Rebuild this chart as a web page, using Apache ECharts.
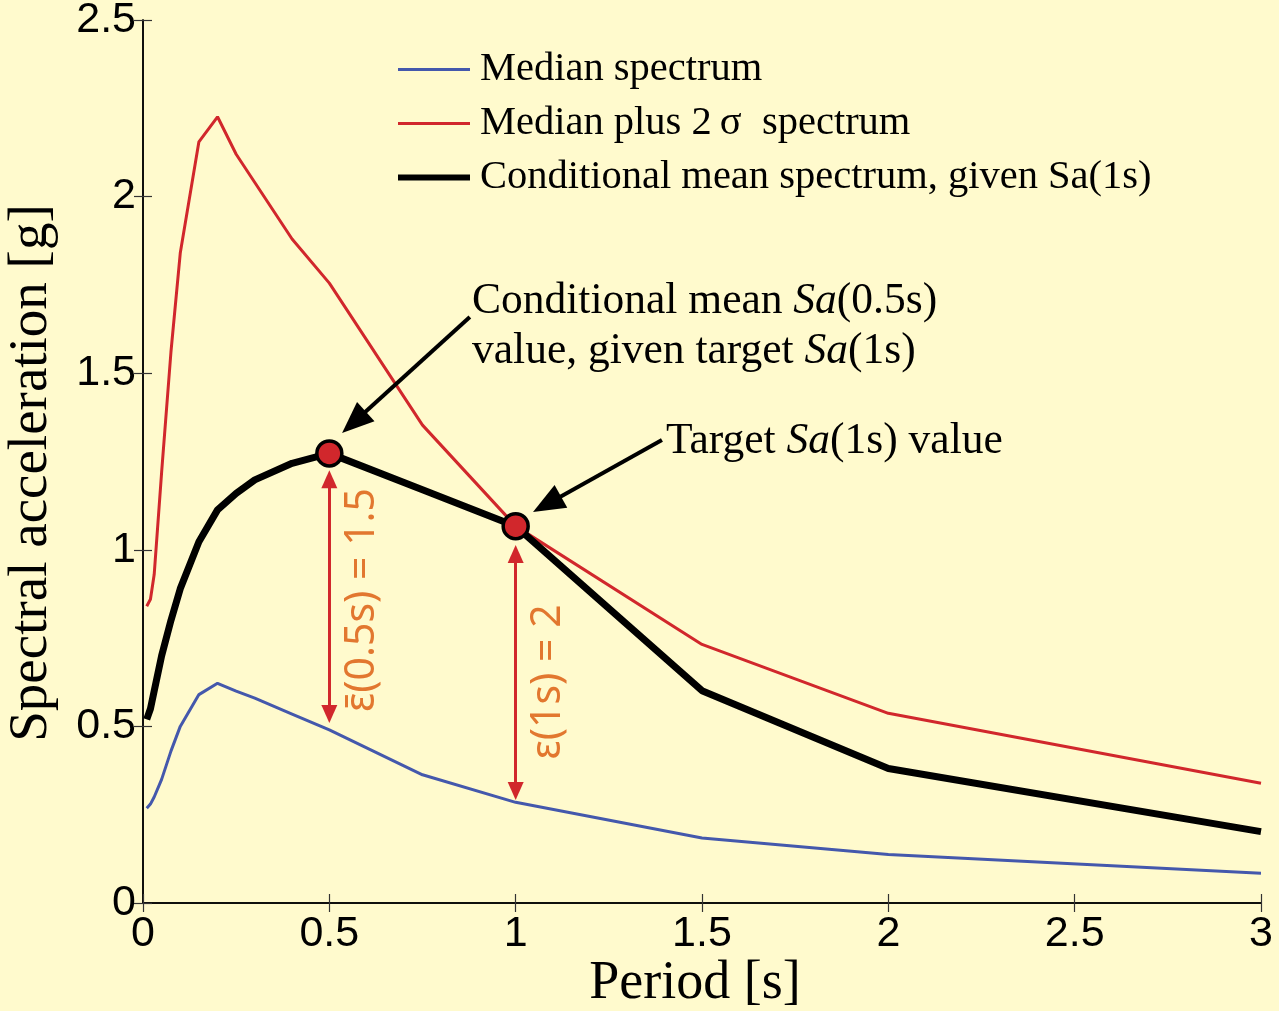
<!DOCTYPE html>
<html>
<head>
<meta charset="utf-8">
<style>
  html, body { margin: 0; padding: 0; background: #fffacd; overflow: hidden; }
  #chart { width: 1279px; height: 1011px; }
</style>
<script src="https://cdn.jsdelivr.net/npm/echarts@6/dist/echarts.min.js"></script>
</head>
<body>
<div id="chart"></div>
<script>
// Spectral periods [s]
const periods = [0.01, 0.02, 0.03, 0.05, 0.075, 0.1, 0.15, 0.2, 0.25, 0.3, 0.4, 0.5, 0.75, 1, 1.5, 2, 3];
// Median spectrum [g]
const medianSa = [0.268, 0.28, 0.30, 0.35, 0.43, 0.50, 0.59, 0.622, 0.60, 0.58, 0.535, 0.49, 0.363, 0.285, 0.184, 0.137, 0.084];
// Median plus 2 sigma spectrum [g]
const plus2SigmaSa = [0.84, 0.86, 0.93, 1.22, 1.56, 1.84, 2.155, 2.226, 2.12, 2.04, 1.88, 1.755, 1.353, 1.067, 0.732, 0.537, 0.339];
// Conditional mean spectrum given Sa(1s) [g]
const cmsSa = [0.52, 0.55, 0.60, 0.70, 0.80, 0.89, 1.023, 1.113, 1.16, 1.198, 1.245, 1.273, 1.17, 1.067, 0.601, 0.381, 0.202];

// Highlighted points: conditional mean Sa(0.5s) and target Sa(1s)
const keyPeriods = [0.5, 1];
const keyValues = [1.273, 1.067];

// Epsilon spans: period, upper arrow head, lower arrow head
const epsSpans = [
  [0.5, 1.2, 0.535],
  [1, 0.988, 0.317]
];

// Callout arrows: tail [T, Sa] -> head [T, Sa]
const callouts = [
  [[0.877, 1.659], [0.566, 1.361]],
  [[1.3925, 1.311], [1.084, 1.129]]
];

const xTicks = { min: 0, max: 3, interval: 0.5 };
const yTicks = { min: 0, max: 2.5, interval: 0.5 };

const BLUE = '#4458ac';
const RED = '#d1272c';
const ORANGE = '#e2772f';
const SERIF = '"Liberation Serif", "Times New Roman", serif';
const SANS = '"Liberation Sans", Arial, sans-serif';

const NAME_MEDIAN = 'Median spectrum';
const NAME_PLUS = 'Median plus 2\u2009\u03c3\u2002spectrum';
const NAME_CMS = 'Conditional mean spectrum, given Sa(1s)';

const pairs = (xs, ys) => xs.map((x, i) => [x, ys[i]]);

const chart = echarts.init(document.getElementById('chart'), null, { renderer: 'canvas' });

const axisCommon = {
  type: 'value',
  axisLine: { show: true, lineStyle: { color: '#000', width: 1.5 } },
  axisTick: { show: true, inside: true, length: 9, lineStyle: { color: '#333', width: 1.2 } },
  splitLine: { show: false }
};

const italicRich = {
  n: { fontFamily: SERIF, fontSize: 43.5, fill: '#000', lineHeight: 50 },
  i: { fontFamily: SERIF, fontSize: 43.5, fontStyle: 'italic', fill: '#000', lineHeight: 50 }
};

const option = {
  backgroundColor: '#fffacd',
  animation: false,
  grid: { left: 143, right: 18, top: 20, bottom: 108, containLabel: false, outerBoundsMode: 'none' },
  legend: {
    orient: 'vertical',
    left: 390,
    top: 44,
    itemWidth: 72,
    itemHeight: 14,
    itemGap: 13,
    itemStyle: { opacity: 0 },
    data: [
      { name: NAME_MEDIAN, lineStyle: { width: 3 } },
      { name: NAME_PLUS, lineStyle: { width: 3 } },
      { name: NAME_CMS, lineStyle: { width: 6 } }
    ],
    textStyle: { fontFamily: SERIF, fontSize: 40.5, color: '#000', lineHeight: 40, padding: [0, 0, 0, 5] },
    selectedMode: false
  },
  xAxis: [
    Object.assign({}, axisCommon, {
      position: 'bottom',
      min: xTicks.min, max: xTicks.max, interval: xTicks.interval,
      axisLabel: { fontFamily: SANS, fontSize: 43, color: '#000', margin: 10 }
    }),
    Object.assign({}, axisCommon, {
      position: 'top',
      min: xTicks.min, max: xTicks.max, interval: xTicks.interval,
      axisLabel: { show: false }
    })
  ],
  yAxis: [
    Object.assign({}, axisCommon, {
      position: 'left',
      min: yTicks.min, max: yTicks.max, interval: yTicks.interval,
      axisLabel: { fontFamily: SANS, fontSize: 43, color: '#000', margin: 7 }
    }),
    Object.assign({}, axisCommon, {
      position: 'right',
      min: yTicks.min, max: yTicks.max, interval: yTicks.interval,
      axisLabel: { show: false }
    })
  ],
  series: [
    {
      name: NAME_MEDIAN,
      type: 'line',
      data: pairs(periods, medianSa),
      symbol: 'none',
      lineStyle: { color: BLUE, width: 3 },
      itemStyle: { color: BLUE },
      z: 3
    },
    {
      name: NAME_PLUS,
      type: 'line',
      data: pairs(periods, plus2SigmaSa),
      symbol: 'none',
      lineStyle: { color: RED, width: 3 },
      itemStyle: { color: RED },
      z: 3
    },
    {
      name: NAME_CMS,
      type: 'line',
      data: pairs(periods, cmsSa),
      symbol: 'none',
      lineStyle: { color: '#000', width: 7 },
      itemStyle: { color: '#000' },
      z: 4,
      markLine: {
        silent: true,
        symbol: ['none', 'triangle'],
        symbolSize: [26, 32],
        label: { show: false },
        lineStyle: { color: '#000', width: 4, type: 'solid' },
        itemStyle: { color: '#000' },
        emphasis: { disabled: true },
        data: callouts.map(c => [{ coord: c[0] }, { coord: c[1] }])
      }
    },
    {
      name: 'key points',
      type: 'scatter',
      data: pairs(keyPeriods, keyValues),
      symbol: 'circle',
      symbolSize: 25,
      itemStyle: { color: RED, borderColor: '#000', borderWidth: 3.5, opacity: 1 },
      z: 6,
      markLine: {
        silent: true,
        symbol: ['triangle', 'triangle'],
        symbolSize: [16, 18],
        label: { show: false },
        lineStyle: { color: RED, width: 3, type: 'solid' },
        itemStyle: { color: RED },
        emphasis: { disabled: true },
        data: epsSpans.map(s => [{ coord: [s[0], s[1]] }, { coord: [s[0], s[2]] }])
      }
    }
  ],
  graphic: [
    {
      type: 'text', x: 695, y: 984,
      style: {
        text: 'Period [s]', fontFamily: SERIF, fontSize: 54, fill: '#000',
        align: 'center', verticalAlign: 'middle'
      }
    },
    {
      type: 'text', x: 32, y: 473, rotation: Math.PI / 2,
      style: {
        text: 'Spectral acceleration [g]', fontFamily: SERIF, fontSize: 55, fill: '#000',
        align: 'center', verticalAlign: 'middle'
      }
    },
    {
      type: 'text', left: 472, top: 280,
      style: {
        text: '{n|Conditional mean }{i|Sa}{n|(0.5s)}\n{n|value, given target }{i|Sa}{n|(1s)}',
        rich: italicRich
      }
    },
    {
      type: 'text', left: 666, top: 420,
      style: {
        text: '{n|Target }{i|Sa}{n|(1s) value}',
        rich: italicRich
      }
    },
    {
      type: 'text', x: 362, y: 600, rotation: Math.PI / 2,
      style: {
        text: '\u03b5\u0304(0.5s) = 1.5',
        fontFamily: '"Noto Sans", sans-serif', fontSize: 41, fill: ORANGE,
        align: 'center', verticalAlign: 'middle'
      }
    },
    {
      type: 'text', x: 548, y: 682, rotation: Math.PI / 2,
      style: {
        text: '\u03b5(1s) = 2',
        fontFamily: '"Noto Sans", sans-serif', fontSize: 41, fill: ORANGE,
        align: 'center', verticalAlign: 'middle'
      }
    }
  ]
};

chart.setOption(option);
</script>
</body>
</html>
